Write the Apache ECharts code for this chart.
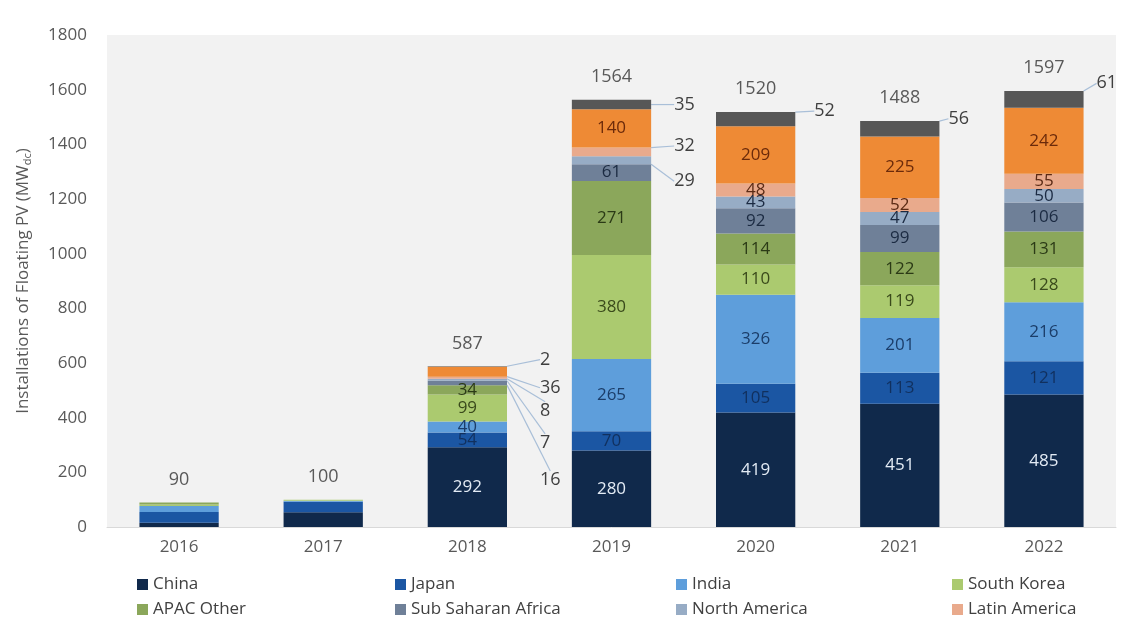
<!DOCTYPE html>
<html>
<head>
<meta charset="utf-8">
<script src="https://cdn.jsdelivr.net/npm/echarts@6/dist/echarts.min.js"></script>
<style>
html,body{margin:0;padding:0;background:#ffffff;}
#chart{width:1128px;height:619px;}
</style>
</head>
<body>
<div id="chart"></div>
<script>
const years = ['2016','2017','2018','2019','2020','2021','2022'];
const china = [16, 54, 292, 280, 419, 451, 485];
const japan = [39, 38, 54, 70, 105, 113, 121];
const india = [22, 4, 40, 265, 326, 201, 216];
const southKorea = [5, 4, 99, 380, 110, 119, 128];
const apacOther = [8, 0, 34, 271, 114, 122, 131];
const subSaharanAfrica = [0, 0, 16, 61, 92, 99, 106];
const northAmerica = [0, 0, 7, 29, 43, 47, 50];
const latinAmerica = [0, 0, 8, 32, 48, 52, 55];
const europe = [0, 0, 36, 140, 209, 225, 242];
const otherRegions = [0, 0, 2, 35, 52, 56, 61];
const totals = [90, 100, 587, 1564, 1520, 1488, 1597];
const yTicks = [0, 200, 400, 600, 800, 1000, 1200, 1400, 1600, 1800];

const FONT = 'Open Sans';

const seriesDefs = [
  {name:'China', data:china, color:'#10294b', text:'#e3ebf5'},
  {name:'Japan', data:japan, color:'#1b56a3', text:'#11305e'},
  {name:'India', data:india, color:'#5e9edb', text:'#1b3d69'},
  {name:'South Korea', data:southKorea, color:'#abca6f', text:'#3a4a1b'},
  {name:'APAC Other', data:apacOther, color:'#8ba75b', text:'#2b3a16'},
  {name:'Sub Saharan Africa', data:subSaharanAfrica, color:'#6f8098', text:'#1b2a42'},
  {name:'North America', data:northAmerica, color:'#97acc5', text:'#1b2a42'},
  {name:'Latin America', data:latinAmerica, color:'#e9aa8c', text:'#5a2a14'},
  {name:'Europe', data:europe, color:'#ee8a35', text:'#6b2a0a'},
  {name:'Middle East & Other', data:otherRegions, color:'#575757', text:'#ffffff'}
];

// callout labels (series name, year index, offsets, anchor)
const callouts = [
  {s:'Sub Saharan Africa', i:2, dx:28, dy:97, a:'side'},
  {s:'North America', i:2, dx:28, dy:63, a:'side'},
  {s:'Latin America', i:2, dx:28, dy:33, a:'side'},
  {s:'Europe', i:2, dx:28, dy:16, a:'side'},
  {s:'Middle East & Other', i:2, dx:28, dy:-7, a:'top'},
  {s:'Middle East & Other', i:3, dx:18, dy:0, a:'side'},
  {s:'Latin America', i:3, dx:18, dy:-6, a:'side'},
  {s:'North America', i:3, dx:18, dy:21, a:'side'},
  {s:'Middle East & Other', i:4, dx:14, dy:-8, a:'top'},
  {s:'Middle East & Other', i:5, dx:4, dy:-10, a:'top'},
  {s:'Middle East & Other', i:6, dx:8, dy:-16, a:'top'}
];
function findCallout(name, i){
  return callouts.find(c => c.s === name && c.i === i);
}

const barSeries = seriesDefs.map((def, si) => {
  const data = def.data.map((v, i) => {
    const c = findCallout(def.name, i);
    let label;
    if (c) {
      label = {show:true, position:'right', distance:5, color:'#3f3f3f', fontSize:18, fontFamily:FONT};
    } else if (i >= 2 && def.name !== 'Middle East & Other') {
      label = {show:true, position:'inside', color:def.text, fontSize:17, fontFamily:FONT};
    } else {
      label = {show:false};
    }
    return {value:v, label:label};
  });
  return {
    name:def.name,
    type:'bar',
    stack:'total',
    barWidth:'55%',
    data:data,
    itemStyle:{color:def.color},
    label:{fontFamily:FONT},
    labelLine:{show:true, lineStyle:{color:'#a9bfd8', width:1.2}},
    labelLayout:function(p){
      const c = findCallout(def.name, p.dataIndex);
      if (!c) return {};
      const lx = p.labelRect.x + c.dx;
      const ly = p.labelRect.y + c.dy + p.labelRect.height/2;
      let pts;
      if (c.a === 'top') {
        pts = [[lx - 2, ly], [lx - 12, ly], [p.rect.x + p.rect.width/2, p.rect.y]];
      } else {
        pts = [[lx - 2, ly], [lx - 12, ly], [p.rect.x + p.rect.width, p.rect.y + p.rect.height/2]];
      }
      return {dx:c.dx, dy:c.dy, labelLinePoints:pts};
    },
    emphasis:{disabled:true}
  };
});

const totalSeries = {
  name:'Total',
  type:'line',
  data:totals,
  symbol:'circle',
  symbolSize:1,
  itemStyle:{color:'rgba(0,0,0,0)'},
  lineStyle:{opacity:0},
  label:{show:true, position:'top', distance:13, color:'#595959', fontSize:18, fontFamily:FONT},
  z:10,
  emphasis:{disabled:true}
};

const legendItems = [
  {name:'China', col:0, row:0},
  {name:'Japan', col:1, row:0},
  {name:'India', col:2, row:0},
  {name:'South Korea', col:3, row:0},
  {name:'APAC Other', col:0, row:1},
  {name:'Sub Saharan Africa', col:1, row:1},
  {name:'North America', col:2, row:1},
  {name:'Latin America', col:3, row:1}
];
const legendLefts = [137, 395, 676, 952];
const legendTops = [576, 601];
const legends = legendItems.map(it => ({
  data:[it.name],
  left:legendLefts[it.col],
  top:legendTops[it.row],
  padding:0,
  icon:'rect',
  itemWidth:11,
  itemHeight:11,
  selectedMode:false,
  textStyle:{color:'#404040', fontSize:17, fontFamily:FONT}
}));

const chart = echarts.init(document.getElementById('chart'), null, {renderer:'canvas'});
chart.setOption({
  animation:false,
  backgroundColor:'#ffffff',
  textStyle:{fontFamily:FONT},
  grid:{left:107, right:12, top:35, bottom:92, show:true, backgroundColor:'#f2f2f2', borderWidth:0},
  legend:legends,
  xAxis:{
    type:'category',
    data:years,
    axisTick:{show:false},
    axisLine:{show:true, lineStyle:{color:'#d9d9d9'}},
    axisLabel:{color:'#595959', fontSize:17, margin:12, fontFamily:FONT}
  },
  yAxis:{
    type:'value',
    min:yTicks[0],
    max:yTicks[yTicks.length-1],
    interval:200,
    splitLine:{show:false},
    axisLine:{show:false},
    axisTick:{show:false},
    axisLabel:{color:'#595959', fontSize:17, margin:20, fontFamily:FONT, formatter:function(v){return String(v);}},
    name:'Installations of Floating PV (MW{sub|dc})',
    nameLocation:'middle',
    nameGap:74,
    nameTextStyle:{
      color:'#595959', fontSize:17, fontFamily:FONT,
      rich:{sub:{fontSize:11, color:'#595959', fontFamily:FONT, verticalAlign:'bottom', padding:[8,0,0,0]}}
    }
  },
  series:barSeries.concat([totalSeries])
});
</script>
</body>
</html>
